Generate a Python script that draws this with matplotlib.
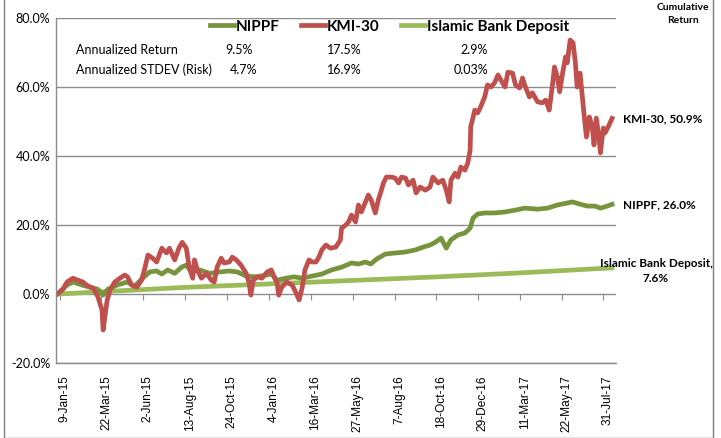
import matplotlib
matplotlib.use("Agg")
import matplotlib.pyplot as plt
import numpy as np
import pandas as pd

start = pd.Timestamp("2014-12-28")

# readings: days since start, cumulative return (%)
kmi_days = [0, 9, 17, 27, 36, 44, 53, 62, 70, 77, 79, 86, 91, 99, 108, 116, 121, 128, 137, 145,
            150, 156, 164, 171, 180, 188, 193, 202, 210, 215, 222, 227, 233, 236, 241, 248, 257, 265,
            270, 275, 282, 287, 296, 301, 308, 316, 325, 330, 333, 337, 344, 352, 361, 368, 373, 378,
            381, 386, 395, 404, 410, 416, 421, 426, 433, 438, 445, 450, 455, 462, 470, 479, 487, 489,
            496, 501, 506, 513, 518, 523, 530, 535, 540, 547, 552, 556, 561, 566, 575, 581, 587, 592,
            599, 604, 612, 617, 624, 633, 641, 646, 655, 663, 669, 674, 677, 684, 689, 694, 701, 706,
            710, 711, 718, 723, 728, 735, 740, 746, 752, 758, 763, 770, 775, 783, 788, 795, 800, 805,
            812, 817, 826, 834, 840, 846, 852, 855, 860, 864, 869, 874, 877, 882, 887, 891, 894, 899,
            903, 906, 910, 915, 920, 923, 927, 932, 934, 939, 942, 949, 954]
kmi = [0, 1.2, 3.5, 4.6, 4.0, 3.5, 2.3, 1.7, -0.8, -4.6, -10.4, -1.7, 1.2, 3.5, 4.6, 5.5, 5.0, 2.6, 2.0, 4.0,
       7.0, 11.3, 10.4, 9.3, 13.3, 11.9, 13.3, 9.9, 13.6, 15.0, 13.3, 7.8, 4.6, 9.9, 7.0, 4.6, 6.0, 4.0,
       3.5, 7.8, 10.4, 9.0, 9.3, 10.7, 9.9, 8.4, 6.0, 3.2, -0.3, 4.0, 5.0, 4.6, 6.4, 7.0, 5.0, 3.2,
       -0.3, 2.0, 3.5, 2.6, 0.6, -1.7, 1.7, 7.0, 9.9, 9.3, 9.3, 10.7, 12.8, 14.2, 13.3, 13.6, 15.7, 19.1,
       20.0, 20.9, 22.9, 20.9, 25.8, 23.8, 26.7, 28.7, 27.2, 23.5, 27.2, 29.3, 32.2, 33.9, 33.9, 33.6, 32.2, 33.9,
       33.6, 31.6, 33.0, 29.3, 31.0, 30.1, 31.0, 33.9, 32.2, 33.0, 30.1, 26.7, 33.0, 35.0, 33.9, 36.8, 35.9, 38.0,
       41.7, 48.4, 53.3, 52.5, 54.2, 57.1, 60.6, 60.0, 61.2, 63.5, 62.0, 60.0, 64.3, 64.0, 60.6, 59.7, 62.6, 60.0,
       57.1, 58.3, 55.7, 55.4, 56.2, 53.3, 61.2, 65.8, 62.9, 58.6, 64.0, 68.7, 67.0, 73.6, 72.8, 67.0, 60.0, 64.0,
       57.1, 51.9, 45.5, 51.3, 48.4, 43.2, 51.0, 44.6, 40.9, 48.1, 46.7, 49.0, 50.9]

nippf_days = [0, 17, 27, 43, 56, 70, 79, 87, 103, 120, 133, 147, 159, 171, 180, 190, 202, 214, 222, 231,
              245, 262, 279, 296, 310, 325, 342, 359, 369, 378, 393, 407, 421, 438, 455, 472, 489, 506,
              518, 530, 539, 549, 564, 581, 599, 616, 629, 641, 650, 660, 669, 677, 689, 701, 710, 715,
              723, 735, 752, 770, 787, 804, 826, 843, 860, 877, 886, 898, 911, 925, 934, 946, 954]
nippf = [0, 2.6, 3.5, 2.6, 2.0, 1.4, -0.3, 1.4, 2.6, 3.5, 2.3, 4.6, 6.4, 6.7, 5.8, 7.0, 6.0, 7.8, 8.4, 6.4,
         7.0, 6.0, 6.4, 6.7, 6.4, 5.2, 5.0, 5.5, 5.8, 4.0, 4.6, 5.0, 4.6, 5.2, 5.8, 7.0, 7.8, 9.0,
         8.7, 9.3, 8.7, 10.1, 11.6, 11.9, 12.2, 12.8, 13.6, 14.2, 15.0, 16.2, 13.3, 15.7, 17.1, 17.7, 19.1, 22.0,
         23.2, 23.5, 23.5, 23.8, 24.3, 24.9, 24.6, 24.9, 25.8, 26.4, 26.7, 26.1, 25.5, 25.5, 24.9, 25.5, 26.0]

deposit_days = [0, 215, 416, 655, 792, 954]
deposit = [0, 1.9, 3.3, 5.0, 6.1, 7.6]

tick_labels = ["9-Jan-15", "22-Mar-15", "2-Jun-15", "13-Aug-15", "24-Oct-15", "4-Jan-16", "16-Mar-16",
               "27-May-16", "7-Aug-16", "18-Oct-16", "29-Dec-16", "11-Mar-17", "22-May-17", "31-Jul-17"]

names = ["NIPPF", "KMI-30", "Islamic Bank Deposit"]
ann_return = ["9.5%", "17.5%", "2.9%"]
ann_stdev = ["4.7%", "16.9%", "0.03%"]

c_nippf = "#77933C"
c_kmi = "#C0504D"
c_dep = "#9BBB59"

narrow = ["Lato", "DejaVu Sans"]

fig = plt.figure(figsize=(7.21, 4.38), dpi=100)
ax = fig.add_axes([0.0777, 0.171, 0.776, 0.788])

def to_dates(days):
    return start + pd.to_timedelta(np.array(days), unit="D")

l3, = ax.plot(to_dates(deposit_days), np.array(deposit) / 100, color=c_dep, lw=3.4)
l1, = ax.plot(to_dates(nippf_days), np.array(nippf) / 100, color=c_nippf, lw=3.4, solid_joinstyle="round")
l2, = ax.plot(to_dates(kmi_days), np.array(kmi) / 100, color=c_kmi, lw=3.4, solid_joinstyle="round")

ax.set_ylim(-0.2, 0.8)
yt = np.arange(-0.2, 0.81, 0.2)
ax.set_yticks(yt)
ax.set_yticklabels(["%.1f%%" % (v * 100) for v in yt], family=narrow, fontsize=9)
ax.yaxis.grid(True, color="#8c8c8c", lw=1)
ax.set_axisbelow(True)

tick_dates = pd.to_datetime(tick_labels, format="%d-%b-%y")
ax.set_xticks(tick_dates)
ax.set_xticklabels(tick_labels, rotation=90, fontsize=8.6, family="Liberation Sans")
ax.tick_params(axis="x", length=0, pad=9)
ax.tick_params(axis="y", length=0, pad=4)
ax.set_xlim(start - pd.Timedelta(days=2), start + pd.Timedelta(days=960))

for s in ["top", "right"]:
    ax.spines[s].set_visible(False)
for s in ["left", "bottom"]:
    ax.spines[s].set_color("#8c8c8c")
    ax.spines[s].set_linewidth(1)

# horizontal axis crosses at 0%
sec = ax.secondary_xaxis(0.2)
sec.set_xticks(tick_dates - pd.Timedelta(days=8))
sec.tick_params(axis="x", length=4, color="#8c8c8c", labelbottom=False)
sec.spines["bottom"].set_visible(False)

leg = ax.legend([l1, l2, l3], names, ncol=3, frameon=False, loc="upper left",
                bbox_to_anchor=(0.25, 1.035), handlelength=1.6, handletextpad=0.1, columnspacing=1.4,
                prop={"family": narrow, "weight": "bold", "size": 11})

rows = [("Annualized Return", ann_return), ("Annualized STDEV (Risk)", ann_stdev)]
val_x = [[0.352, 0.546, 0.772], [0.359, 0.546, 0.772]]
for i, (lab, vals) in enumerate(rows):
    y = 0.908 - i * 0.058
    ax.text(0.035, y, lab, transform=ax.transAxes, fontsize=9, family=narrow, va="center")
    for xv, v in zip(val_x[i], vals):
        ax.text(xv, y, v, transform=ax.transAxes, fontsize=9, family=narrow, va="center", ha="right")

fig.text(0.947, 0.968, "Cumulative\nReturn", ha="center", va="center", fontsize=7.5,
         family=narrow, weight="bold", linespacing=1.6)
lab_kw = dict(family=narrow, weight="bold", fontsize=8.5, va="center")
fig.text(623 / 721, 1 - 119 / 438, "KMI-30, %.1f%%" % kmi[-1], **lab_kw)
fig.text(623 / 721, 1 - 205 / 438, "NIPPF, %.1f%%" % nippf[-1], **lab_kw)
fig.text(656 / 721, 1 - 271 / 438, "Islamic Bank Deposit,\n%.1f%%" % deposit[-1], ha="center",
         linespacing=1.4, **lab_kw)

# outer chart border
border = plt.Rectangle((0.005, 0.0), 0.984, 1.2, transform=fig.transFigure, fill=False,
                       edgecolor="#7f7f7f", lw=1)
fig.patches.append(border)

fig.savefig("out.png", dpi=100)
